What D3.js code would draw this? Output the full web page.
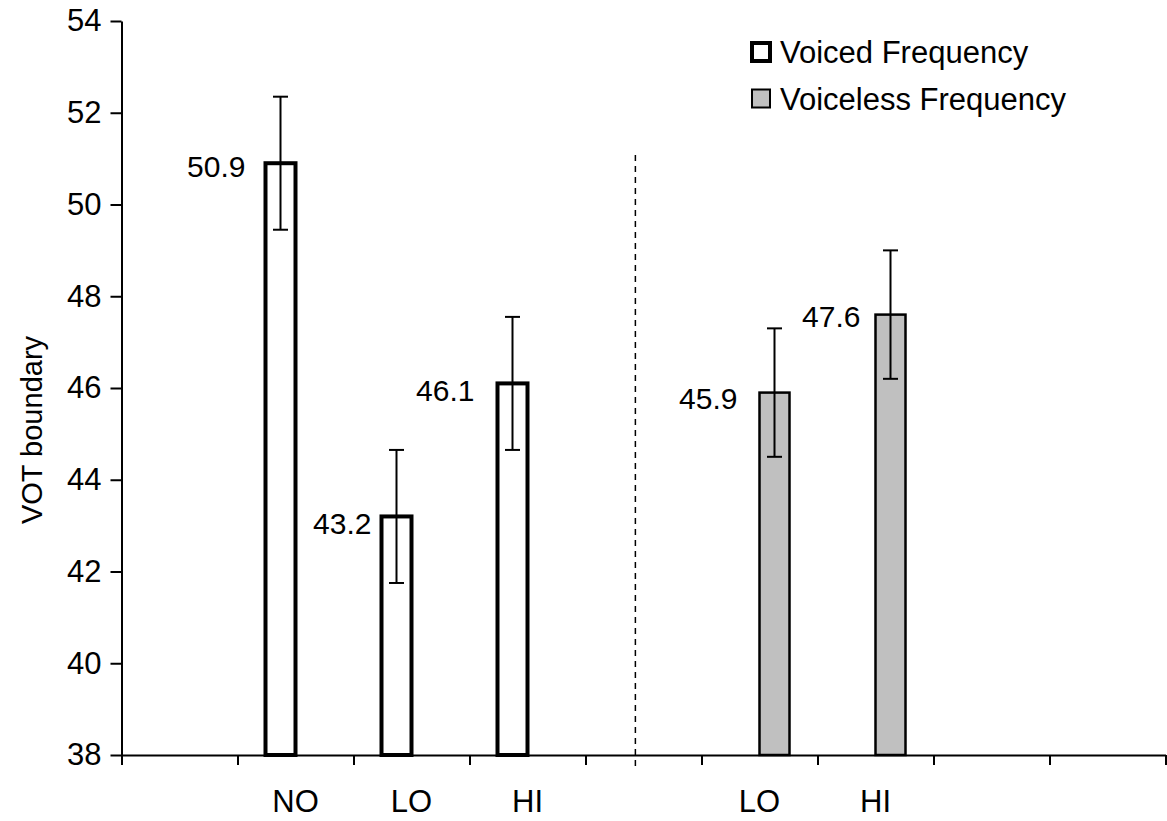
<!DOCTYPE html>
<html>
<head>
<meta charset="utf-8">
<script src="https://cdn.jsdelivr.net/npm/d3@7"></script>
<style>
  body { margin: 0; background: #fff; }
  text { font-family: "Liberation Sans", Arial, sans-serif; fill: #000; }
</style>
</head>
<body>
<div id="chart"></div>
<script>
// data
var categories = ["", "NO", "LO", "HI", "", "LO", "HI", "", ""];
var voiced = [null, 50.9, 43.2, 46.1, null, null, null, null, null];
var voicedErr = [null, 1.45, 1.45, 1.45, null, null, null, null, null];
var voiceless = [null, null, null, null, null, 45.9, 47.6, null, null];
var voicelessErr = [null, null, null, null, null, 1.4, 1.4, null, null];
var yTicks = [38, 40, 42, 44, 46, 48, 50, 52, 54];
var seriesNames = ["Voiced Frequency", "Voiceless Frequency"];

// label nudges (layout only): [gap left of bar, vertical shift]
var voicedNudge = [null, [20, 3], [10, 7], [23, 7], null, null, null, null, null];
var voicelessNudge = [null, null, null, null, null, [22, 6], [15, 2], null, null];

var W = 1167, H = 821;
var plotL = 121.5, plotR = 1165.5, plotT = 21, plotB = 755;
var barW = 30;

var svg = d3.select("#chart").append("svg")
  .attr("width", W).attr("height", H);

var idx = d3.range(categories.length);

var x = d3.scaleBand().domain(idx).range([plotL, plotR]).padding(0);
var xEdge = d3.scaleLinear().domain([0, categories.length]).range([plotL, plotR]);
var y = d3.scaleLinear().domain([38, 54]).range([plotB, plotT]);

// dashed separator
svg.append("line")
  .attr("x1", xEdge(4.43)).attr("x2", xEdge(4.43))
  .attr("y1", 155).attr("y2", plotB + 12)
  .attr("stroke", "#000").attr("stroke-width", 1.5)
  .attr("stroke-dasharray", "6,5");

// bars
function drawSeries(vals, errs, nudge, offset, fill, sw, name){
  var pts = idx.filter(function(i){ return vals[i] != null; });
  var g = svg.append("g").attr("class", name);

  g.selectAll("rect").data(pts).enter().append("rect")
    .attr("x", function(i){ return x(i) + x.bandwidth() / 2 + offset; })
    .attr("y", function(i){ return y(vals[i]); })
    .attr("width", barW)
    .attr("height", function(i){ return y(38) - y(vals[i]); })
    .attr("fill", fill).attr("stroke", "#000").attr("stroke-width", sw);

  var cx = function(i){ return x(i) + x.bandwidth() / 2 + offset + barW / 2; };

  g.selectAll("line.err").data(pts).enter().append("line")
    .attr("class", "err")
    .attr("x1", cx).attr("x2", cx)
    .attr("y1", function(i){ return y(vals[i] + errs[i]); })
    .attr("y2", function(i){ return y(vals[i] - errs[i]); })
    .attr("stroke", "#000").attr("stroke-width", 2);

  [1, -1].forEach(function(s){
    g.selectAll("line.cap" + s).data(pts).enter().append("line")
      .attr("x1", function(i){ return cx(i) - 7.5; })
      .attr("x2", function(i){ return cx(i) + 7.5; })
      .attr("y1", function(i){ return y(vals[i] + s * errs[i]); })
      .attr("y2", function(i){ return y(vals[i] + s * errs[i]); })
      .attr("stroke", "#000").attr("stroke-width", 2);
  });

  g.selectAll("text").data(pts).enter().append("text")
    .attr("x", function(i){ return x(i) + x.bandwidth() / 2 + offset - nudge[i][0]; })
    .attr("y", function(i){ return y(vals[i]) + nudge[i][1]; })
    .attr("dy", "0.35em")
    .attr("text-anchor", "end")
    .style("font-size", "30px")
    .text(function(i){ return vals[i].toFixed(1); });
}

drawSeries(voiced, voicedErr, voicedNudge, -barW, "#fff", 4, "voiced");
drawSeries(voiceless, voicelessErr, voicelessNudge, 0, "#c0c0c0", 2.5, "voiceless");

// y axis
var yAxis = svg.append("g")
  .attr("transform", "translate(" + plotL + ",0)")
  .call(d3.axisLeft(y).tickValues(yTicks).tickSize(11).tickSizeOuter(0).tickPadding(9));
yAxis.selectAll("path, line").attr("stroke-width", 2);
yAxis.selectAll("text").style("font-size", "31px").attr("fill", "#000");

// x axis with ticks at category edges
var xAxis = svg.append("g")
  .attr("transform", "translate(0," + plotB + ")")
  .call(d3.axisBottom(xEdge).tickValues(d3.range(categories.length + 1))
    .tickSize(10).tickSizeOuter(0).tickFormat(""));
xAxis.selectAll("path, line").attr("stroke-width", 2);

var xLabels = svg.append("g")
  .attr("transform", "translate(0," + plotB + ")")
  .call(d3.axisBottom(x).tickSize(0).tickPadding(35)
    .tickFormat(function(i){ return categories[i]; }));
xLabels.select(".domain").remove();
xLabels.selectAll("text").style("font-size", "31px").attr("fill", "#000");

// y title
svg.append("text")
  .attr("transform", "translate(42,430) rotate(-90)")
  .attr("text-anchor", "middle")
  .style("font-size", "29px")
  .text("VOT boundary");

// legend
var legend = svg.append("g").attr("class", "legend");
var legendStyles = [
  {fill: "#fff", sw: 4},
  {fill: "#c0c0c0", sw: 2}
];
seriesNames.forEach(function(name, k){
  var gy = 42 + k * 46.5;
  legend.append("rect")
    .attr("x", 752).attr("y", gy + 1)
    .attr("width", 18).attr("height", 18)
    .attr("fill", legendStyles[k].fill)
    .attr("stroke", "#000").attr("stroke-width", legendStyles[k].sw);
  legend.append("text")
    .attr("x", 780).attr("y", gy + 21)
    .style("font-size", "31px")
    .text(name);
});
</script>
</body>
</html>
